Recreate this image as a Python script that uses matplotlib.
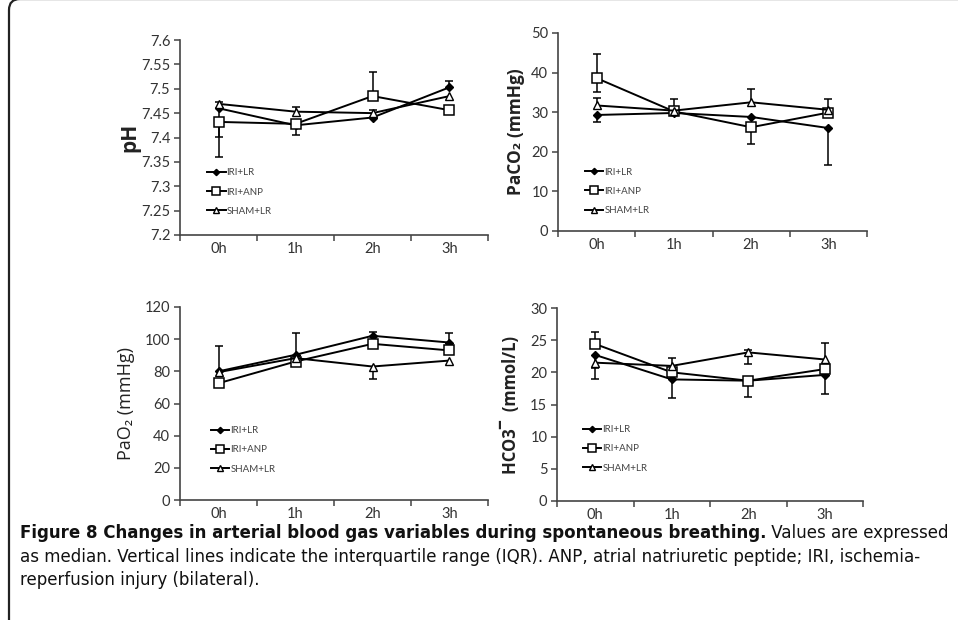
#!/usr/bin/env python3
"""Figure 8: arterial blood gas variables during spontaneous breathing."""

import matplotlib
matplotlib.use("Agg")
import matplotlib.pyplot as plt
from matplotlib.patches import FancyBboxPatch
from matplotlib.transforms import IdentityTransform
import numpy as np

# ── Data (medians, with visible IQR whisker lengths below / above) ───────
TIMES = ["0h", "1h", "2h", "3h"]
GROUPS = ["IRI+LR", "IRI+ANP", "SHAM+LR"]

PH_IRI_LR = [7.460, 7.425, 7.441, 7.503]
PH_IRI_ANP = [7.432, 7.428, 7.485, 7.456]
PH_SHAM_LR = [7.469, 7.453, 7.450, 7.485]
PH_LO = [[0.058, 0.020, 0, 0], [0.072, 0, 0, 0], [0, 0, 0, 0]]
PH_HI = [[0, 0, 0.015, 0.012], [0, 0, 0.050, 0], [0.004, 0.010, 0, 0]]

PACO2_IRI_LR = [29.3, 29.8, 28.8, 26.0]
PACO2_IRI_ANP = [38.6, 30.2, 26.2, 29.9]
PACO2_SHAM_LR = [31.7, 30.4, 32.5, 30.6]
PACO2_LO = [[1.9, 0, 0, 9.3], [3.4, 0, 4.2, 0], [0, 0, 0, 0]]
PACO2_HI = [[0, 0, 0, 0], [6.1, 0, 0, 0], [1.9, 3.0, 3.3, 2.8]]

PAO2_IRI_LR = [80.0, 90.3, 102.1, 97.9]
PAO2_IRI_ANP = [72.6, 86.1, 97.1, 93.0]
PAO2_SHAM_LR = [79.5, 88.2, 83.0, 86.7]
PAO2_LO = [[0, 0, 0, 0], [0, 0, 0, 0], [0, 0, 7.7, 0]]
PAO2_HI = [[0, 13.5, 2.1, 5.9], [0, 0, 0, 0], [16.4, 0, 0, 0]]

HCO3_IRI_LR = [22.7, 18.9, 18.7, 19.6]
HCO3_IRI_ANP = [24.4, 20.0, 18.7, 20.5]
HCO3_SHAM_LR = [21.5, 21.0, 23.1, 22.0]
HCO3_LO = [[3.8, 2.9, 2.6, 3.0], [0, 0, 0, 0], [0.8, 0, 1.8, 0]]
HCO3_HI = [[0, 0, 0, 0], [1.9, 0, 0, 0], [0, 1.3, 0.3, 2.6]]

PH_TICKS = [7.2, 7.25, 7.3, 7.35, 7.4, 7.45, 7.5, 7.55, 7.6]
PACO2_TICKS = [0, 10, 20, 30, 40, 50]
PAO2_TICKS = [0, 20, 40, 60, 80, 100, 120]
HCO3_TICKS = [0, 5, 10, 15, 20, 25, 30]

CAPTION_BOLD = "Figure 8 Changes in arterial blood gas variables during spontaneous breathing."
CAPTION_1 = " Values are expressed"
CAPTION_2 = ("as median. Vertical lines indicate the interquartile range (IQR). "
             "ANP, atrial natriuretic peptide; IRI, ischemia-")
CAPTION_3 = "reperfusion injury (bilateral)."

# ── Style ────────────────────────────────────────────────────────────────
TICK_FONT = ["Lato", "DejaVu Sans"]
LABEL_FONT = ["Open Sans", "DejaVu Sans"]
CAP_FONT = ["DejaVu Sans"]
INK = "#222222"
MARKERS = [dict(marker="D", ms=4, mfc="black", mec="black"),
           dict(marker="s", ms=6.5, mfc="white", mec="black", mew=1.1),
           dict(marker="^", ms=5.5, mfc="white", mec="black", mew=1.0)]

W, H = 958, 620
fig = plt.figure(figsize=(W / 100, H / 100), dpi=100)

# rounded frame running off the right and bottom edges
frame = FancyBboxPatch((9, -40), 1100, 650 - 9 + 20, boxstyle="round,pad=0,rounding_size=11",
                       transform=IdentityTransform(), fill=False, edgecolor="#222", linewidth=1.6)
fig.patches.append(frame)


def px_axes(left, top, right, bottom):
    return fig.add_axes([left / W, 1 - bottom / H, (right - left) / W, (bottom - top) / H])


def panel(ax, series, lo, hi, ticks, label, label_size, label_x, bold, legend_xy):
    x = np.arange(len(TIMES))
    for vals, l, h, name, mk in zip(series, lo, hi, GROUPS, MARKERS):
        vals = np.array(vals); l = np.array(l); h = np.array(h)
        for i in range(len(x)):
            if l[i] > 0:
                ax.vlines(x[i], vals[i] - l[i], vals[i], color="black", lw=1.1, zorder=2)
                ax.plot(x[i], vals[i] - l[i], marker="_", ms=6, mew=1.1, color="black", zorder=2)
            if h[i] > 0:
                ax.vlines(x[i], vals[i], vals[i] + h[i], color="black", lw=1.1, zorder=2)
                ax.plot(x[i], vals[i] + h[i], marker="_", ms=6, mew=1.1, color="black", zorder=2)
        ax.plot(x, vals, color="black", lw=1.4, label=name, zorder=3, **mk)

    ax.set_xlim(-0.5, len(TIMES) - 0.5)
    ax.set_ylim(ticks[0], ticks[-1])
    ax.set_yticks(ticks)
    ax.set_yticklabels([f"{t:g}" for t in ticks], fontfamily=TICK_FONT, fontsize=10.5, color="#333")
    ax.set_xticks(np.arange(-0.5, len(TIMES)))
    ax.set_xticklabels([])
    ax.set_xticks(x, minor=True)
    ax.set_xticklabels(TIMES, minor=True, fontfamily=TICK_FONT, fontsize=10.5, color="#333")
    ax.tick_params(axis="x", which="minor", length=0, pad=5)
    ax.tick_params(axis="x", which="major", length=4, width=1.1, color="#444", direction="out")
    ax.tick_params(axis="y", length=4, width=1.1, color="#444", direction="out", pad=3)
    for s in ["top", "right"]:
        ax.spines[s].set_visible(False)
    for s in ["left", "bottom"]:
        ax.spines[s].set_color("#444")
        ax.spines[s].set_linewidth(1.2)

    ax.set_ylabel(label, fontfamily=LABEL_FONT, fontsize=label_size,
                  fontweight="bold" if bold else "normal", color=INK)
    ax.yaxis.set_label_coords(label_x, 0.5)

    leg = ax.legend(loc="center left", bbox_to_anchor=legend_xy, frameon=False,
                    prop={"family": TICK_FONT, "size": 7}, handlelength=1.9,
                    handletextpad=0.1, labelspacing=1.05, borderpad=0, borderaxespad=0,
                    markerscale=0.8)
    for t in leg.get_texts():
        t.set_color("#444")


ax1 = px_axes(180, 40, 488, 235)
panel(ax1, [PH_IRI_LR, PH_IRI_ANP, PH_SHAM_LR], PH_LO, PH_HI, PH_TICKS,
      "pH", 15, -0.13, True, (0.088, 0.22))

ax2 = px_axes(558, 33, 867, 231)
panel(ax2, [PACO2_IRI_LR, PACO2_IRI_ANP, PACO2_SHAM_LR], PACO2_LO, PACO2_HI, PACO2_TICKS,
      "PaCO\u2082 (mmHg)", 12.5, -0.107, True, (0.087, 0.20))

ax3 = px_axes(180, 307, 488, 500)
panel(ax3, [PAO2_IRI_LR, PAO2_IRI_ANP, PAO2_SHAM_LR], PAO2_LO, PAO2_HI, PAO2_TICKS,
      "PaO\u2082 (mmHg)", 13, -0.146, False, (0.10, 0.26))

ax4 = px_axes(557, 308, 863, 501)
panel(ax4, [HCO3_IRI_LR, HCO3_IRI_ANP, HCO3_SHAM_LR], HCO3_LO, HCO3_HI, HCO3_TICKS,
      "HCO3\u00af  (mmol/L)", 12, -0.121, True, (0.085, 0.27))

# ── Caption: bold lead-in followed by regular text on the same line ─────
renderer = fig.canvas.get_renderer()
cap_kw = dict(fontfamily=CAP_FONT, fontstretch="condensed", va="center", ha="left", color="#111")
x0, y1 = 20 / W, 1 - 533 / H
tb = fig.text(x0, y1, CAPTION_BOLD, fontweight="bold", fontsize=12, **cap_kw)
tr = fig.text(0, y1, CAPTION_1, fontsize=12, **cap_kw)
# fit the first caption line to the frame width
w = tb.get_window_extent(renderer).width + tr.get_window_extent(renderer).width
size = 12 * 928 / w
tb.set_fontsize(size)
tr.set_fontsize(size)
tr.set_x(tb.get_window_extent(renderer).x1 / W)
fig.text(x0, 1 - 557 / H, CAPTION_2, fontsize=size, **cap_kw)
fig.text(x0, 1 - 580 / H, CAPTION_3, fontsize=size, **cap_kw)

fig.savefig("out.png", dpi=100, facecolor="white")
